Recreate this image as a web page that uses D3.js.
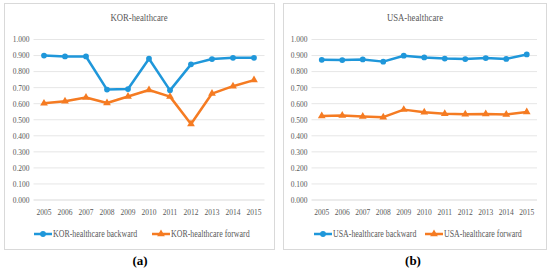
<!DOCTYPE html>
<html lang="en">
<head>
<meta charset="utf-8" />
<title>Healthcare backward / forward</title>
<style>
  html,body{margin:0;padding:0;background:#fff;}
  svg{display:block;font-family:"Liberation Serif","Times New Roman",serif;}
  svg text{font-family:"Liberation Serif","Times New Roman",serif;}
  .tick text{fill:#595959;font-size:9px;}
</style>
</head>
<body>
<svg id="chart" width="550" height="272"></svg>
<script src="https://d3js.org/d3.v7.min.js"></script>
<script>
// ---- data ----
const years = ['2005','2006','2007','2008','2009','2010','2011','2012','2013','2014','2015'];
const yTicks = [0,0.1,0.2,0.3,0.4,0.5,0.6,0.7,0.8,0.9,1.0];

const korBackward = [0.897,0.891,0.891,0.685,0.688,0.877,0.680,0.842,0.875,0.883,0.883];
const korForward  = [0.599,0.612,0.635,0.601,0.642,0.682,0.641,0.470,0.660,0.706,0.744];
const usaBackward = [0.870,0.869,0.873,0.859,0.896,0.885,0.878,0.875,0.881,0.876,0.904];
const usaForward  = [0.520,0.523,0.517,0.513,0.560,0.543,0.534,0.531,0.533,0.530,0.545];

const BLUE = '#1f97da', ORANGE = '#f57b22';
const FONT = '"Liberation Serif","Times New Roman",serif';
// the source text is a narrow Times; squeeze to ~0.83 width
const SQ = 0.83;

const svg = d3.select('#chart');

function squeeze(sel){
  sel.each(function(){
    const w = this.getComputedTextLength();
    d3.select(this).attr('textLength',w*SQ).attr('lengthAdjust','spacingAndGlyphs');
  });
}

// one panel per country
function panel(o){
  const g = svg.append('g');
  g.append('rect').attr('x',o.box[0]+0.5).attr('y',o.box[1]+0.5)
    .attr('width',o.box[2]-o.box[0]).attr('height',o.box[3]-o.box[1])
    .attr('fill','#fff').attr('stroke','#d9d9d9').attr('stroke-width',1);

  const x = d3.scaleBand().domain(years).range([o.plot[0],o.plot[1]]);
  const y = d3.scaleLinear().domain([0,1]).range([o.plot[3],o.plot[2]]);

  // gridlines + y labels
  const ya = g.append('g').attr('transform',`translate(${o.plot[0]},0)`)
    .call(d3.axisLeft(y).tickValues(yTicks).tickFormat(d3.format('.3f'))
      .tickSize(-(o.plot[1]-o.plot[0])).tickPadding(4))
    .attr('font-family',FONT);
  ya.select('.domain').remove();
  ya.selectAll('.tick line').attr('stroke',d=>d===0?'#d9d9d9':'#e6e6e6');
  squeeze(ya.selectAll('.tick text'));

  // x labels
  const xa = g.append('g').attr('transform',`translate(0,${o.plot[3]})`)
    .call(d3.axisBottom(x).tickSize(0).tickPadding(9))
    .attr('font-family',FONT);
  xa.select('.domain').remove();
  squeeze(xa.selectAll('.tick text'));

  g.append('text').attr('x',o.title[0]).attr('y',o.title[1])
    .attr('text-anchor','middle').attr('fill','#595959').style('font-size','10.5px')
    .text(o.name).call(squeeze);

  const line = d3.line().x((d,i)=>x(years[i])+x.bandwidth()/2).y(d=>y(d));
  const series = [
    {vals:o.back, color:BLUE, sym:d3.symbolCircle, size:26, label:o.name+' backward'},
    {vals:o.fwd,  color:ORANGE, sym:d3.symbolTriangle, size:26, label:o.name+' forward'}
  ];
  series.forEach(s=>{
    g.append('path').datum(s.vals).attr('d',line).attr('fill','none')
      .attr('stroke',s.color).attr('stroke-width',2.5).attr('stroke-linejoin','round');
    g.selectAll(null).data(s.vals).enter().append('path')
      .attr('d',d3.symbol().type(s.sym).size(s.size))
      .attr('transform',(d,i)=>`translate(${x(years[i])+x.bandwidth()/2},${y(d)})`)
      .attr('fill',s.color);
  });

  // legend
  series.forEach((s,i)=>{
    const lx = o.legend[i], ly = o.legendY;
    g.append('line').attr('x1',lx).attr('x2',lx+18).attr('y1',ly).attr('y2',ly)
      .attr('stroke',s.color).attr('stroke-width',2.5);
    g.append('path').attr('d',d3.symbol().type(s.sym).size(s.size))
      .attr('transform',`translate(${lx+9},${ly})`).attr('fill',s.color);
    g.append('text').attr('x',lx+19).attr('y',ly).attr('dy','0.35em')
      .attr('fill','#595959').style('font-size','9.5px').text(s.label).call(squeeze);
  });

  g.append('text').attr('x',o.tag[0]).attr('y',o.tag[1]).attr('text-anchor','middle')
    .style('font-size','13px').attr('fill','#000').attr('font-weight','bold')
    .text(`(${o.letter})`);
}

panel({name:'KOR-healthcare', back:korBackward, fwd:korForward, letter:'a',
  box:[4,3,274,249], plot:[33.5,264.5,39,199.5], title:[139,21],
  legend:[34,152], legendY:234, tag:[140,265]});
panel({name:'USA-healthcare', back:usaBackward, fwd:usaForward, letter:'b',
  box:[283,3,546,249], plot:[311.5,537,39,199.5], title:[415,21],
  legend:[314,425], legendY:234, tag:[413,265]});
</script>
</body>
</html>
